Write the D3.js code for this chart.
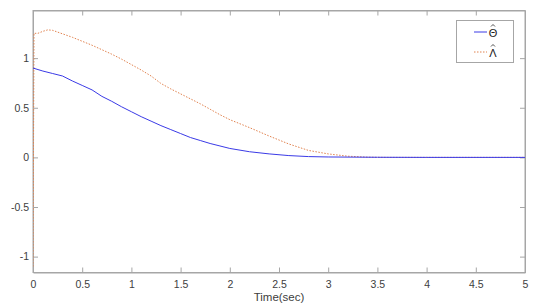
<!DOCTYPE html>
<html><head><meta charset="utf-8">
<script src="https://cdn.jsdelivr.net/npm/d3@7"></script>
<style>body{margin:0;background:#fff}svg{display:block}text{font-family:"Liberation Sans",Arial,sans-serif}</style>
</head><body><svg id="c" width="537" height="307"></svg>
<script>
const thetaT = [0,0.1,0.2,0.3,0.4,0.5,0.6,0.7,0.8,0.9,1.0,1.1,1.2,1.3,1.4,1.5,1.6,1.7,1.8,1.9,2.0,2.2,2.4,2.6,2.8,3.0,3.5,4.0,5.0];
const thetaV = [0.9,0.87,0.845,0.82,0.77,0.725,0.68,0.615,0.565,0.51,0.46,0.41,0.365,0.32,0.28,0.24,0.2,0.17,0.14,0.115,0.09,0.057,0.035,0.018,0.008,0.004,0.001,0,0];
const lamT = [0,0.01,0.05,0.1,0.15,0.2,0.3,0.4,0.5,0.6,0.7,0.8,0.9,1.0,1.1,1.2,1.3,1.4,1.5,1.6,1.7,1.8,1.9,2.0,2.2,2.4,2.6,2.8,3.0,3.2,3.4,3.6,5.0];
const lamV = [-1.1,1.25,1.25,1.27,1.285,1.28,1.245,1.21,1.17,1.13,1.085,1.04,0.99,0.935,0.88,0.82,0.745,0.69,0.64,0.59,0.54,0.485,0.43,0.38,0.3,0.215,0.135,0.07,0.035,0.012,0.002,0,0];
const xTicks = [0,0.5,1,1.5,2,2.5,3,3.5,4,4.5,5];
const xTickLabels = ["0","0.5","1","1.5","2","2.5","3","3.5","4","4.5","5"];
const yTicks = [-1,-0.5,0,0.5,1];
const yTickLabels = ["-1","-0.5","0","0.5","1"];
const seriesNames = ["\u0398","\u039B"];

const svg = d3.select("#c");
const L=33,R=525,T=10.5,B=272.5;
const x = d3.scaleLinear().domain([0,5]).range([L,R]);
const y = d3.scaleLinear().domain([-1.16,1.48]).range([B,T]);
const axc = "#a6a6a6", txc = "#404040";

svg.append("clipPath").attr("id","cp").append("rect").attr("x",L).attr("y",T).attr("width",R-L).attr("height",B-T);

svg.append("rect").attr("x",L).attr("y",T).attr("width",R-L).attr("height",B-T).attr("fill","none").attr("stroke",axc).attr("stroke-width",1);

const axBottom = d3.axisBottom(x).tickValues(xTicks).tickFormat((d,i)=>xTickLabels[i]).tickSizeInner(-5).tickSizeOuter(0).tickPadding(8);
const gb = svg.append("g").attr("transform",`translate(0,${B})`).call(axBottom);
const axTop = d3.axisTop(x).tickValues(xTicks).tickFormat("").tickSizeInner(-5).tickSizeOuter(0);
const gt = svg.append("g").attr("transform",`translate(0,${T})`).call(axTop);
const axLeft = d3.axisLeft(y).tickValues(yTicks).tickFormat((d,i)=>yTickLabels[i]).tickSizeInner(-5).tickSizeOuter(0).tickPadding(4);
const gl = svg.append("g").attr("transform",`translate(${L},0)`).call(axLeft);
const axRight = d3.axisRight(y).tickValues(yTicks).tickFormat("").tickSizeInner(-5).tickSizeOuter(0);
const gr = svg.append("g").attr("transform",`translate(${R},0)`).call(axRight);
[gb,gt,gl,gr].forEach(g=>{
  g.select(".domain").attr("stroke",axc);
  g.selectAll(".tick line").attr("stroke",axc);
  g.selectAll(".tick text").attr("fill",txc).attr("font-size",10.5);
});

const line = d3.line().x(d=>x(d[0])).y(d=>y(d[1]));
const pl = svg.append("g").attr("clip-path","url(#cp)");
pl.append("path").datum(lamT.map((t,i)=>[t,lamV[i]])).attr("d",line).attr("fill","none").attr("stroke","#e0824f").attr("stroke-width",1).attr("stroke-dasharray","1.5,1.5");
pl.append("path").datum(thetaT.map((t,i)=>[t,thetaV[i]])).attr("d",line).attr("fill","none").attr("stroke","#3a3ae6").attr("stroke-width",1);

svg.append("text").attr("x",(L+R)/2).attr("y",301).attr("text-anchor","middle").attr("fill",txc).attr("font-size",11.5).text("Time(sec)");

const lg = svg.append("g");
lg.append("rect").attr("x",456.5).attr("y",20.5).attr("width",57).attr("height",42).attr("fill","#fff").attr("stroke",axc);
lg.append("line").attr("x1",474).attr("x2",487).attr("y1",32).attr("y2",32).attr("stroke","#3a3ae6");
lg.append("line").attr("x1",474).attr("x2",487).attr("y1",52).attr("y2",52).attr("stroke","#e0824f").attr("stroke-dasharray","1.5,1.5");
[37,57].forEach((yy,i)=>{
  lg.append("text").attr("x",493).attr("y",yy).attr("text-anchor","middle").attr("fill","#222").attr("font-size",11).attr("font-family","Liberation Serif").text(seriesNames[i]);
  // circumflex accent drawn as a small mark
  lg.append("path").attr("d",`M${491},${yy-10.5}L${493},${yy-12.5}L${495},${yy-10.5}`).attr("fill","none").attr("stroke","#222").attr("stroke-width",0.8);
});
</script></body></html>
